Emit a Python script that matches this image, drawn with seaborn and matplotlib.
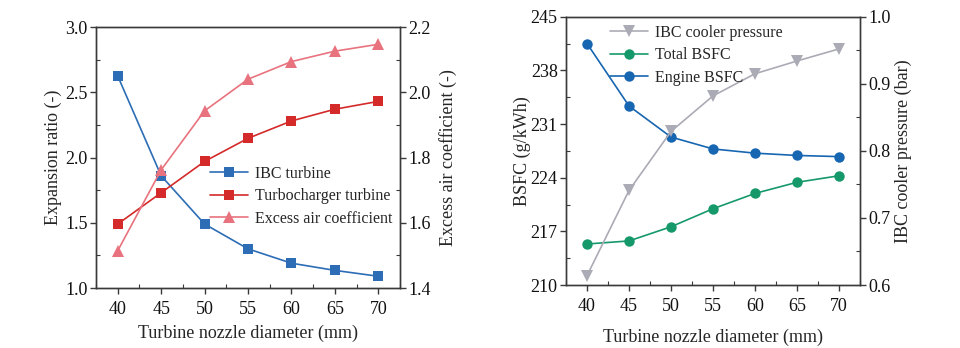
import numpy as np
import pandas as pd
import matplotlib
matplotlib.use("Agg")
import matplotlib.pyplot as plt
from matplotlib.ticker import MultipleLocator, AutoMinorLocator
import seaborn as sns

# ---- data ----
diameter = [40, 45, 50, 55, 60, 65, 70]
ibc_turbine = [2.625, 1.86, 1.49, 1.30, 1.19, 1.135, 1.09]
tc_turbine = [1.49, 1.73, 1.97, 2.147, 2.28, 2.37, 2.43]
excess_air = [1.514, 1.762, 1.943, 2.04, 2.094, 2.126, 2.147]

engine_bsfc = [241.5, 233.35, 229.3, 227.75, 227.2, 226.9, 226.75]
total_bsfc = [215.35, 215.75, 217.6, 219.95, 221.95, 223.4, 224.25]
ibc_pressure = [0.614, 0.741, 0.829, 0.882, 0.915, 0.934, 0.952]

sns.set_theme(style="ticks")
plt.rcParams['font.family'] = ['Liberation Serif', 'DejaVu Serif']

FS = 13
SP = '#3a3a3a'

fig = plt.figure(figsize=(9.6, 3.48), dpi=100)
ax1 = fig.add_axes([0.1, 0.1724, 0.3167, 0.75])
ax1r = ax1.twinx()
ax2 = fig.add_axes([0.5896, 0.181, 0.3063, 0.771])
ax2r = ax2.twinx()

c_blue = '#2c6db5'
c_red = '#d42a2a'
c_pink = '#e8737e'
c_green = '#16996a'
c_eblue = '#1766b1'
c_gray = '#ababb6'

df1 = pd.DataFrame({'d': diameter, 'ibc': ibc_turbine, 'tc': tc_turbine, 'ex': excess_air})
df2 = pd.DataFrame({'d': diameter, 'eng': engine_bsfc, 'tot': total_bsfc, 'p': ibc_pressure})

lw = 1.2
sns.lineplot(data=df1, x='d', y='ibc', ax=ax1, color=c_blue, marker='s', markersize=6.5,
             markeredgewidth=0, linewidth=lw, label='IBC turbine', legend=False)
sns.lineplot(data=df1, x='d', y='tc', ax=ax1, color=c_red, marker='s', markersize=6.5,
             markeredgewidth=0, linewidth=lw, label='Turbocharger turbine', legend=False)
sns.lineplot(data=df1, x='d', y='ex', ax=ax1r, color=c_pink, marker='^', markersize=8,
             markeredgewidth=0, linewidth=lw, label='Excess air coefficient', legend=False)

sns.lineplot(data=df2, x='d', y='p', ax=ax2r, color=c_gray, marker='v', markersize=8,
             markeredgewidth=0, linewidth=lw, label='IBC cooler pressure', legend=False)
sns.lineplot(data=df2, x='d', y='tot', ax=ax2, color=c_green, marker='o', markersize=7.5,
             markeredgewidth=0, linewidth=lw, label='Total BSFC', legend=False)
sns.lineplot(data=df2, x='d', y='eng', ax=ax2, color=c_eblue, marker='o', markersize=7.5,
             markeredgewidth=0, linewidth=lw, label='Engine BSFC', legend=False)

for ax in (ax1, ax2):
    ax.set_xlim(37.5, 72.5)
    ax.xaxis.set_major_locator(MultipleLocator(5))
    ax.xaxis.set_minor_locator(AutoMinorLocator(2))

ax1.set_xlabel('Turbine nozzle diameter (mm)', fontsize=FS, labelpad=5)
ax2.set_xlabel('Turbine nozzle diameter (mm)', fontsize=FS, labelpad=10)

ax1.set_ylim(1.0, 3.0)
ax1.yaxis.set_major_locator(MultipleLocator(0.5))
ax1.yaxis.set_minor_locator(AutoMinorLocator(2))
ax1.set_ylabel('Expansion ratio (-)', fontsize=FS, labelpad=2)
ax1r.set_ylim(1.4, 2.2)
ax1r.yaxis.set_major_locator(MultipleLocator(0.2))
ax1r.yaxis.set_minor_locator(AutoMinorLocator(2))
ax1r.set_ylabel('Excess air coefficient (-)', fontsize=FS, labelpad=6)

ax2.set_ylim(210, 245)
ax2.yaxis.set_major_locator(MultipleLocator(7))
ax2.yaxis.set_minor_locator(AutoMinorLocator(2))
ax2.set_ylabel('BSFC (g/kWh)', fontsize=FS, labelpad=0)
ax2r.set_ylim(0.6, 1.0)
ax2r.yaxis.set_major_locator(MultipleLocator(0.1))
ax2r.yaxis.set_minor_locator(AutoMinorLocator(2))
ax2r.set_ylabel('IBC cooler pressure (bar)', fontsize=FS, labelpad=3)

for ax in (ax1, ax1r, ax2, ax2r):
    for s in ax.spines.values():
        s.set_visible(True)
        s.set_color(SP)
        s.set_linewidth(1.0)
    ax.tick_params(which='major', direction='out', length=4, width=1.0, color=SP,
                   labelsize=FS, pad=2, labelcolor='#111111')
    ax.tick_params(which='minor', direction='in', length=3, width=0.8, color=SP)
    ax.grid(False)
for ax in (ax1, ax2):
    ax.tick_params(axis='x', which='major', pad=5)

ax1r.set_xlabel('')
ax2r.set_xlabel('')

h1, l1 = ax1.get_legend_handles_labels()
h2, l2 = ax1r.get_legend_handles_labels()
ax1r.legend(h1 + h2, l1 + l2, loc='upper left', bbox_to_anchor=(0.375, 0.468),
            frameon=False, fontsize=11.5, handlelength=2.4, handletextpad=0.4,
            labelspacing=0.4, borderaxespad=0, borderpad=0)

h3, l3 = ax2r.get_legend_handles_labels()
h4, l4 = ax2.get_legend_handles_labels()
ax2r.legend(h3 + h4, l3 + l4, loc='upper left', bbox_to_anchor=(0.15, 0.97),
            frameon=False, fontsize=11.5, handlelength=2.4, handletextpad=0.4,
            labelspacing=0.4, borderaxespad=0, borderpad=0)

fig.savefig('out.png', dpi=100)
